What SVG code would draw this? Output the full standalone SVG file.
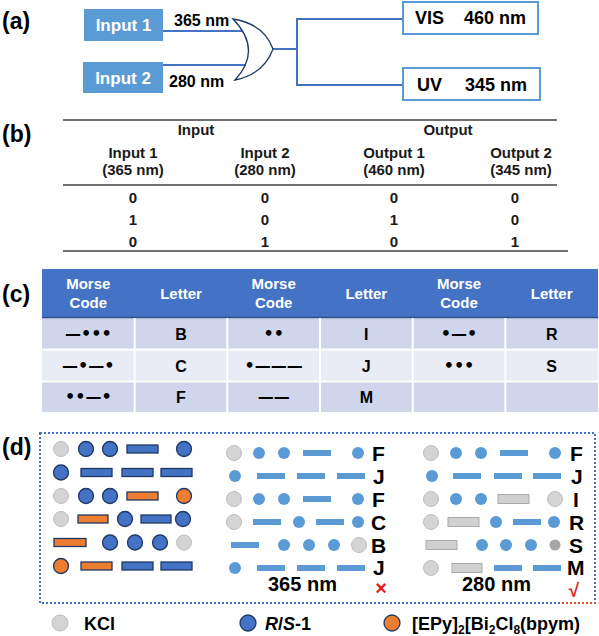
<svg xmlns="http://www.w3.org/2000/svg" width="599" height="636" viewBox="0 0 599 636">
<style>
text{font-family:"Liberation Sans",Arial,sans-serif;font-weight:bold;}
.lab{font-size:23px;fill:#000;}
.inbox{fill:#5b9bd5;}
.intx{font-size:17px;fill:#fff;text-anchor:middle;}
.outbox{fill:#fff;stroke:#5b9bd5;stroke-width:2;}
.outtx{font-size:18px;fill:#000;}
.nm{font-size:16px;fill:#000;}
.wire{stroke:#4472c4;stroke-width:2;fill:none;}
.tb{font-size:15px;fill:#1a1a1a;text-anchor:middle;}
.tl{stroke:#404040;stroke-width:1.5;}
.hd{font-size:15px;fill:#fff;text-anchor:middle;}
.cl{font-size:16px;fill:#000;text-anchor:middle;}
.ms{font-family:"DejaVu Sans",sans-serif;font-size:16px;fill:#000;text-anchor:middle;}
.kc{fill:#d4d4d4;stroke:#bdbdbd;stroke-width:1;}
.rs{fill:#4472c4;stroke:#1f3864;stroke-width:1.3;}
.ep{fill:#ed7d31;stroke:#1f3864;stroke-width:1.3;}
.dot{fill:#5b9bd5;}
.gr{fill:#d0d0d0;stroke:#aaaaaa;stroke-width:1;}
.big{font-size:21px;fill:#000;}
.leg{font-size:18px;fill:#000;}
</style>

<!-- (a) -->
<text class="lab" x="2" y="29">(a)</text>
<g id="connectors">
  <line class="wire" x1="163" y1="31" x2="247" y2="31"/>
  <line class="wire" x1="163" y1="65" x2="247" y2="65"/>
  <polyline class="wire" points="403,19 297,19 297,85 403,85"/>
  <line class="wire" x1="272" y1="49" x2="297" y2="49"/>
</g>
<g id="input1">
  <rect class="inbox" x="84" y="9" width="79" height="32"/>
  <text class="intx" x="123.5" y="31">Input 1</text>
</g>
<g id="input2">
  <rect class="inbox" x="83" y="62" width="80" height="31"/>
  <text class="intx" x="123" y="84">Input 2</text>
</g>
<text class="nm" x="174" y="26">365 nm</text>
<text class="nm" x="169" y="87">280 nm</text>
<g id="orgate">
  <path d="M233,19 Q264,24 273,49 Q264,74 235,80 Q263,50 233,19 Z" fill="#fff" stroke="#1f3864" stroke-width="1.3"/>
</g>
<g id="vis">
  <rect class="outbox" x="403" y="2" width="135" height="32"/>
  <text class="outtx" x="415" y="24">VIS</text>
  <text class="outtx" x="464" y="24">460 nm</text>
</g>
<g id="uv">
  <rect class="outbox" x="403" y="68" width="137" height="32"/>
  <text class="outtx" x="417" y="91">UV</text>
  <text class="outtx" x="465" y="91">345 nm</text>
</g>

<!-- (b) -->
<text class="lab" x="2" y="142">(b)</text>
<line class="tl" x1="63" y1="120" x2="557" y2="120"/>
<line class="tl" x1="63" y1="185" x2="557" y2="185"/>
<line class="tl" x1="63" y1="251" x2="568" y2="251"/>
<text class="tb" x="196" y="135">Input</text>
<text class="tb" x="448" y="135">Output</text>
<text class="tb" x="133" y="158">Input 1</text>
<text class="tb" x="265" y="158">Input 2</text>
<text class="tb" x="394" y="158">Output 1</text>
<text class="tb" x="521" y="158">Output 2</text>
<text class="tb" x="133" y="175">(365 nm)</text>
<text class="tb" x="265" y="175">(280 nm)</text>
<text class="tb" x="394" y="175">(460 nm)</text>
<text class="tb" x="521" y="175">(345 nm)</text>
<text class="tb" x="133" y="203">0</text><text class="tb" x="265" y="203">0</text><text class="tb" x="394" y="203">0</text><text class="tb" x="515" y="203">0</text>
<text class="tb" x="133" y="225">1</text><text class="tb" x="265" y="225">0</text><text class="tb" x="394" y="225">1</text><text class="tb" x="515" y="225">0</text>
<text class="tb" x="133" y="247">0</text><text class="tb" x="265" y="247">1</text><text class="tb" x="394" y="247">0</text><text class="tb" x="515" y="247">1</text>

<!-- (c) -->
<text class="lab" x="2" y="302">(c)</text>
<rect x="42" y="269" width="556" height="48" fill="#4472c4"/>
<rect x="42" y="318" width="556" height="31" fill="#cfd5ea"/>
<rect x="42" y="350" width="556" height="31" fill="#e9ebf5"/>
<rect x="42" y="382" width="556" height="30" fill="#cfd5ea"/>
<g stroke="#fff" stroke-width="2">
  <line x1="42" y1="317.5" x2="598" y2="317.5" stroke="#2f528f" stroke-width="1.5"/>
  <line x1="42" y1="349.5" x2="598" y2="349.5"/>
  <line x1="42" y1="381.5" x2="598" y2="381.5"/>
  <line x1="134.7" y1="318" x2="134.7" y2="412"/>
  <line x1="227.3" y1="318" x2="227.3" y2="412"/>
  <line x1="320" y1="318" x2="320" y2="412"/>
  <line x1="412.7" y1="318" x2="412.7" y2="412"/>
  <line x1="505.3" y1="318" x2="505.3" y2="412"/>
</g>
<text class="hd" x="88.3" y="289">Morse</text><text class="hd" x="88.3" y="308">Code</text>
<text class="hd" x="181" y="299">Letter</text>
<text class="hd" x="273.7" y="289">Morse</text><text class="hd" x="273.7" y="308">Code</text>
<text class="hd" x="366.3" y="299">Letter</text>
<text class="hd" x="459" y="289">Morse</text><text class="hd" x="459" y="308">Code</text>
<text class="hd" x="551.7" y="299">Letter</text>

<text class="ms" x="88.3" y="339">—•••</text><text class="cl" x="181" y="340">B</text>
<text class="ms" x="273.7" y="339">••</text><text class="cl" x="366.3" y="340">I</text>
<text class="ms" x="459" y="339">•—•</text><text class="cl" x="551.7" y="340">R</text>
<text class="ms" x="88.3" y="371">—•—•</text><text class="cl" x="181" y="372">C</text>
<text class="ms" x="273.7" y="371">•———</text><text class="cl" x="366.3" y="372">J</text>
<text class="ms" x="459" y="371">•••</text><text class="cl" x="551.7" y="372">S</text>
<text class="ms" x="88.3" y="402">••—•</text><text class="cl" x="181" y="403">F</text>
<text class="ms" x="273.7" y="402">——</text><text class="cl" x="366.3" y="403">M</text>

<!-- (d) -->
<text class="lab" x="2" y="455">(d)</text>
<rect x="40" y="433" width="555" height="170" fill="none" stroke="#4472c4" stroke-width="2" stroke-dasharray="2,2"/>
<line x1="560" y1="603" x2="595" y2="603" stroke="#e05030" stroke-width="2" stroke-dasharray="2,2" stroke-dashoffset="2"/>

<!-- left: original -->
<circle class="kc" cx="61" cy="449" r="7.5"/><circle class="rs" cx="86" cy="449" r="7.5"/><circle class="rs" cx="110" cy="449" r="7.5"/><rect class="rs" x="127" y="445" width="31" height="8"/><circle class="rs" cx="184" cy="449" r="7.5"/>
<circle class="rs" cx="61" cy="472.5" r="7.5"/><rect class="rs" x="81" y="468.5" width="31" height="8"/><rect class="rs" x="122" y="468.5" width="31" height="8"/><rect class="rs" x="161" y="468.5" width="31" height="8"/>
<circle class="kc" cx="61" cy="496" r="7.5"/><circle class="rs" cx="86" cy="496" r="7.5"/><circle class="rs" cx="110" cy="496" r="7.5"/><rect class="ep" x="127" y="492" width="31" height="8"/><circle class="ep" cx="184" cy="496" r="7.5"/>
<circle class="kc" cx="61" cy="519" r="7.5"/><rect class="ep" x="78" y="515" width="30" height="8"/><circle class="rs" cx="125" cy="519" r="7.5"/><rect class="rs" x="141" y="515" width="30" height="8"/><circle class="rs" cx="183" cy="519" r="7.5"/>
<rect class="ep" x="54" y="538.5" width="32" height="8"/><circle class="rs" cx="110" cy="542.5" r="7.5"/><circle class="rs" cx="135" cy="542.5" r="7.5"/><circle class="rs" cx="160" cy="542.5" r="7.5"/><circle class="kc" cx="184" cy="542.5" r="7.5"/>
<circle class="ep" cx="61" cy="566" r="7.5"/><rect class="ep" x="81" y="562" width="31" height="8"/><rect class="rs" x="122" y="562" width="31" height="8"/><rect class="rs" x="161" y="562" width="31" height="8"/>

<!-- middle: 365 nm -->
<circle class="kc" cx="234" cy="453" r="7.5"/><circle class="dot" cx="259" cy="453" r="6"/><circle class="dot" cx="284" cy="453" r="6"/><rect class="dot" x="303" y="450" width="28" height="6"/><circle class="dot" cx="358" cy="453" r="6"/>
<circle class="dot" cx="235" cy="476" r="6"/><rect class="dot" x="257" y="473" width="28" height="6"/><rect class="dot" x="297" y="473" width="28" height="6"/><rect class="dot" x="337" y="473" width="28" height="6"/>
<circle class="kc" cx="234" cy="499" r="7.5"/><circle class="dot" cx="259" cy="499" r="6"/><circle class="dot" cx="284" cy="499" r="6"/><rect class="dot" x="303" y="496" width="28" height="6"/><circle class="dot" cx="358" cy="499" r="6"/>
<circle class="kc" cx="234" cy="522" r="7.5"/><rect class="dot" x="253" y="519" width="28" height="6"/><circle class="dot" cx="299" cy="522" r="6"/><rect class="dot" x="316" y="519" width="28" height="6"/><circle class="dot" cx="358" cy="522" r="6"/>
<rect class="dot" x="231" y="542" width="28" height="6"/><circle class="dot" cx="284" cy="545" r="6"/><circle class="dot" cx="309" cy="545" r="6"/><circle class="dot" cx="334" cy="545" r="6"/><circle class="kc" cx="359" cy="545" r="7.5"/>
<circle class="dot" cx="235" cy="568" r="6"/><rect class="dot" x="257" y="565" width="28" height="6"/><rect class="dot" x="297" y="565" width="28" height="6"/><rect class="dot" x="337" y="565" width="28" height="6"/>
<text class="big" x="372" y="461">F</text>
<text class="big" x="373" y="484">J</text>
<text class="big" x="372" y="507">F</text>
<text class="big" x="371" y="530">C</text>
<text class="big" x="371" y="553">B</text>
<text class="big" x="373" y="575">J</text>
<text x="268" y="591" font-size="20" fill="#000">365 nm</text>
<text x="381" y="595" font-size="20" fill="#e02020" text-anchor="middle">×</text>

<!-- right: 280 nm -->
<circle class="kc" cx="431" cy="453" r="7.5"/><circle class="dot" cx="456" cy="453" r="6"/><circle class="dot" cx="481" cy="453" r="6"/><rect class="dot" x="500" y="450" width="28" height="6"/><circle class="dot" cx="555" cy="453" r="6"/>
<circle class="dot" cx="432" cy="476" r="6"/><rect class="dot" x="453" y="473" width="28" height="6"/><rect class="dot" x="494" y="473" width="28" height="6"/><rect class="dot" x="533" y="473" width="28" height="6"/>
<circle class="kc" cx="431" cy="499" r="7.5"/><circle class="dot" cx="456" cy="499" r="6"/><circle class="dot" cx="481" cy="499" r="6"/><rect class="gr" x="498" y="494.5" width="31" height="9"/><circle class="kc" cx="555" cy="499" r="7.5"/>
<circle class="kc" cx="431" cy="522" r="7.5"/><rect class="gr" x="448" y="517.5" width="31" height="9"/><circle class="dot" cx="496" cy="522" r="6"/><rect class="dot" x="513" y="519" width="28" height="6"/><circle class="dot" cx="554" cy="522" r="6"/>
<rect class="gr" x="426" y="540.5" width="31" height="9"/><circle class="dot" cx="482" cy="545" r="6"/><circle class="dot" cx="506" cy="545" r="6"/><circle class="dot" cx="531" cy="545" r="6"/><circle cx="555" cy="545" r="5.5" fill="#a6a6a6"/>
<circle class="kc" cx="431" cy="568" r="7.5"/><rect class="gr" x="452" y="563.5" width="30" height="9"/><rect class="dot" x="494" y="565" width="28" height="6"/><rect class="dot" x="533" y="565" width="28" height="6"/>
<text class="big" x="570" y="461">F</text>
<text class="big" x="571" y="484">J</text>
<text class="big" x="573" y="507">I</text>
<text class="big" x="569" y="530">R</text>
<text class="big" x="569" y="553">S</text>
<text class="big" x="567" y="575">M</text>
<text x="462" y="591" font-size="20" fill="#000">280 nm</text>
<text x="574" y="597" font-size="19" fill="#e02020" text-anchor="middle">√</text>

<!-- legend -->
<circle class="kc" cx="60" cy="623" r="8"/>
<text class="leg" x="84" y="630">KCl</text>
<circle class="rs" cx="248" cy="623" r="8"/>
<text class="leg" x="265" y="630"><tspan font-style="italic">R</tspan>/<tspan font-style="italic">S</tspan>-1</text>
<circle class="ep" cx="392" cy="623" r="8"/>
<text class="leg" x="412" y="630">[EPy]<tspan font-size="12" dy="4">2</tspan><tspan dy="-4">[Bi</tspan><tspan font-size="12" dy="4">2</tspan><tspan dy="-4">Cl</tspan><tspan font-size="12" dy="4">8</tspan><tspan dy="-4">(bpym)</tspan></text>
</svg>
